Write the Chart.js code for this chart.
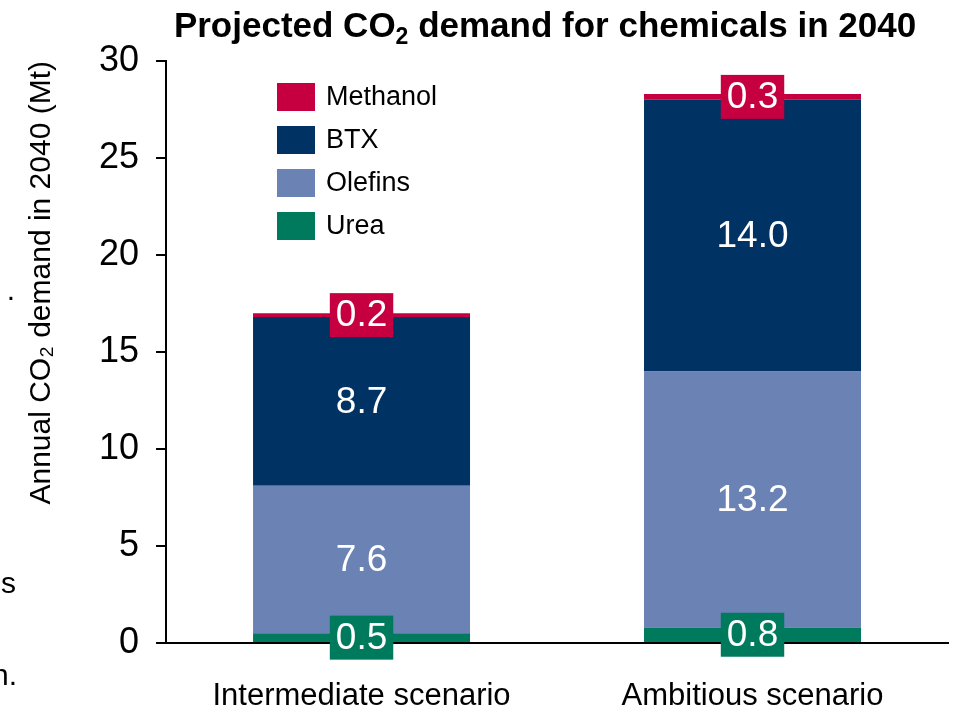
<!DOCTYPE html>
<html>
<head>
<meta charset="utf-8">
<script src="https://cdn.jsdelivr.net/npm/chart.js@4"></script>
<style>
  html, body { margin: 0; padding: 0; background: #fff; }
  #wrap { width: 956px; height: 706px; }
</style>
</head>
<body>
<div id="wrap"><canvas id="chart" width="956" height="706"></canvas></div>
<script>
// data
const categories = ['Intermediate scenario', 'Ambitious scenario'];
const urea     = [0.5, 0.8];
const olefins  = [7.6, 13.2];
const btx      = [8.7, 14.0];
const methanol = [0.2, 0.3];
const yTicks   = [0, 5, 10, 15, 20, 25, 30];
const titleParts = ['Projected CO', '2', ' demand for chemicals in 2040'];

const FONT = "'Liberation Sans', Arial, sans-serif";
const CRIMSON = '#c60040';
const NAVY    = '#003263';
const LILAC   = '#6b82b4';
const GREEN   = '#007a5c';

// title with a real subscript 2
const subTitle = {
  id: 'subTitle',
  afterDraw(chart) {
    const ctx = chart.ctx;
    const big = 'bold 35px ' + FONT;
    const small = 'bold 23px ' + FONT;
    ctx.save();
    ctx.textBaseline = 'alphabetic';
    ctx.textAlign = 'left';
    ctx.fillStyle = '#000';
    ctx.font = big;
    const w0 = ctx.measureText(titleParts[0]).width;
    const w2 = ctx.measureText(titleParts[2]).width;
    ctx.font = small;
    const w1 = ctx.measureText(titleParts[1]).width;
    let x = 545 - (w0 + w1 + w2) / 2;
    const base = 37;
    ctx.font = big;
    ctx.fillText(titleParts[0], x, base);
    x += w0;
    ctx.font = small;
    ctx.fillText(titleParts[1], x, base + 7);
    x += w1;
    ctx.font = big;
    ctx.fillText(titleParts[2], x, base);
    ctx.restore();
  }
};

// value labels; small segments get a coloured box behind the number
const valueLabels = {
  id: 'valueLabels',
  afterDatasetsDraw(chart) {
    const ctx = chart.ctx;
    ctx.save();
    ctx.font = '37px ' + FONT;
    ctx.textAlign = 'center';
    ctx.textBaseline = 'middle';
    chart.data.datasets.forEach((ds, di) => {
      chart.getDatasetMeta(di).data.forEach((bar, i) => {
        const v = ds.data[i];
        const cy = (bar.y + bar.base) / 2;
        const txt = v.toFixed(1);
        if (v < 1) {
          const w = ctx.measureText(txt).width + 12;
          ctx.fillStyle = ds.backgroundColor;
          ctx.fillRect(bar.x - w / 2, cy - 22, w, 44);
        }
        ctx.fillStyle = '#fff';
        ctx.fillText(txt, bar.x, cy + 1);
      });
    });
    ctx.restore();
  }
};

// legend drawn inside the plot area, top series first
const innerLegend = {
  id: 'innerLegend',
  afterDraw(chart) {
    const ctx = chart.ctx;
    const sets = chart.data.datasets.slice().reverse();
    ctx.save();
    ctx.font = '27px ' + FONT;
    ctx.textBaseline = 'middle';
    ctx.textAlign = 'left';
    sets.forEach((ds, k) => {
      const y = 97 + k * 43;
      ctx.fillStyle = ds.backgroundColor;
      ctx.fillRect(277, y - 14, 38, 28);
      ctx.fillStyle = '#000';
      ctx.fillText(ds.label, 326, y + 1);
    });
    // fragments of neighbouring slide text at the left edge
    ctx.font = '30px ' + FONT;
    ctx.textAlign = 'right';
    ctx.fillText('.', 15, 292);
    ctx.fillText('s', 16, 585);
    ctx.fillText('n.', 17, 677);
    ctx.restore();
  }
};

new Chart(document.getElementById('chart'), {
  type: 'bar',
  data: {
    labels: categories,
    datasets: [
      { label: 'Urea',     data: urea,     backgroundColor: GREEN },
      { label: 'Olefins',  data: olefins,  backgroundColor: LILAC },
      { label: 'BTX',      data: btx,      backgroundColor: NAVY },
      { label: 'Methanol', data: methanol, backgroundColor: CRIMSON },
    ],
  },
  options: {
    responsive: false,
    animation: false,
    layout: { padding: { left: 24, right: 8, top: 61, bottom: 0 } },
    datasets: { bar: { categoryPercentage: 1, barPercentage: 0.555, borderWidth: 0 } },
    plugins: {
      legend: { display: false },
      tooltip: { enabled: false },
      title: { display: false },
    },
    scales: {
      x: {
        stacked: true,
        grid: { display: false },
        border: { display: true, color: '#000', width: 2 },
        ticks: { color: '#000', font: { family: FONT, size: 31 }, padding: 27, maxRotation: 0, minRotation: 0 },
        afterFit: axis => { axis.height = 63; },
      },
      y: {
        stacked: true,
        min: 0,
        max: 30,
        afterBuildTicks: axis => { axis.ticks = yTicks.map(v => ({ value: v })); },
        grid: { drawOnChartArea: false, drawTicks: true, tickLength: 10, color: '#000', lineWidth: 2 },
        border: { display: true, color: '#000', width: 2 },
        ticks: { color: '#000', font: { family: FONT, size: 36 }, padding: 17 },
        title: {
          display: true,
          text: 'Annual CO₂ demand in 2040 (Mt)',
          align: 'end',
          color: '#000',
          font: { family: FONT, size: 30 },
          padding: { top: 0, bottom: 22 },
        },
      },
    },
  },
  plugins: [valueLabels, innerLegend, subTitle],
});
</script>
</body>
</html>
